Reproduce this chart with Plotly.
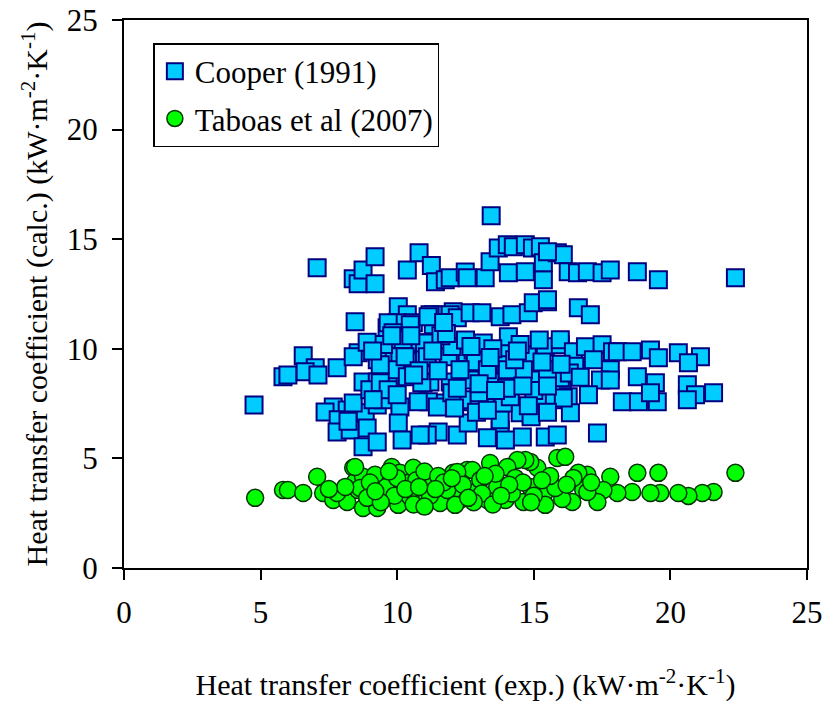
import plotly.graph_objects as go

# Cooper (1991) correlation: experimental vs calculated h (kW m^-2 K^-1)
cooper_x = [13.44, 7.07, 8.39, 8.57, 8.75, 9.19, 9.19, 10.37, 10.80, 11.25, 11.40, 11.76, 11.94,
            12.49, 12.56, 13.22, 13.40, 13.70, 14.03, 14.25, 14.69, 14.95, 15.24, 14.07, 14.69,
            15.35, 15.35, 15.86, 16.08, 16.26, 16.60, 16.96, 17.50, 17.80, 18.79, 19.56, 22.38,
            15.50,
            10.04, 10.37, 11.32, 12.05, 8.46, 10.00, 9.63, 9.93, 10.77, 11.32, 10.59, 11.20, 11.94,
            12.20, 12.67, 13.10, 13.77, 14.20, 14.80, 14.98, 15.50, 16.63, 17.07, 15.50, 9.67,
            10.48, 11.13, 9.85, 10.22, 10.84,
            6.56, 5.82, 6.00, 7.00, 6.63, 7.10, 7.80, 8.57, 8.39, 9.63, 9.27, 10.10, 10.48, 11.00,
            8.75, 9.27, 9.67, 10.95, 9.93, 9.38, 10.37, 10.29, 11.87, 12.56, 11.00, 11.10, 12.78,
            12.86, 13.15, 13.96, 14.07, 13.96, 14.76, 15.42, 15.97, 15.97, 16.45, 16.89, 17.50,
            17.88, 17.80, 17.18, 17.44, 17.00, 16.04, 16.26, 16.34, 17.33, 15.42, 15.86, 14.58,
            13.77, 13.30, 13.96, 11.50, 12.20, 11.10, 14.50, 15.05, 15.68, 16.08, 13.22, 12.75,
            12.38, 11.69, 11.14, 12.60, 13.77, 13.88, 14.14, 15.13, 14.25, 13.40, 12.67, 11.94,
            11.20, 14.98, 15.97, 15.50, 14.62, 14.03, 13.30, 12.30, 18.06, 18.60, 19.27, 19.56,
            20.29, 21.10, 20.66, 18.79, 19.45, 20.62, 20.92, 21.58, 18.24, 18.83, 19.52, 19.27,
            20.62, 17.80,
            4.76, 7.66, 7.36, 8.17, 7.84, 7.80, 8.28, 8.83, 8.90, 8.75, 9.27, 8.39, 9.27, 9.49,
            10.10, 10.04, 10.18, 10.77, 10.84, 11.47, 9.00, 9.38, 9.67, 10.90, 9.12,
            12.00, 12.50, 13.50, 14.50, 13.00, 14.00, 15.00, 15.50, 12.00, 11.50, 10.80, 14.30,
            15.30, 16.50, 16.30, 12.90, 14.90, 15.50, 10.50, 9.50, 11.60,
            8.90, 9.80, 12.70, 13.40, 14.40, 11.80, 12.20, 13.00, 13.60, 14.60, 15.20, 16.00,
            10.60, 11.30, 9.10, 12.10, 13.30, 14.80, 16.70, 11.70, 10.00, 8.20]
cooper_y = [16.07, 13.70, 13.20, 12.97, 13.60, 14.20, 12.97, 13.60, 14.38, 13.80, 13.06, 13.15, 13.24,
            13.50, 13.24, 13.24, 13.97, 14.60, 14.75, 14.66, 14.75, 14.60, 14.66, 13.47, 13.52,
            13.15, 13.93, 14.38, 14.29, 13.52, 13.47, 13.52, 13.47, 13.60, 13.52, 13.15, 13.24,
            14.43,
            11.92, 11.55, 11.55, 11.69, 11.23, 11.19, 10.96, 10.41, 10.27, 11.10, 11.19, 11.55, 11.55,
            11.42, 11.64, 11.64, 11.46, 11.55, 11.64, 12.10, 12.15, 11.87, 11.55, 12.24, 11.19,
            11.10, 11.46, 10.73, 10.41, 10.27,
            9.68, 8.72, 8.81, 9.13, 8.95, 8.81, 9.13, 9.82, 9.64, 9.59, 9.50, 9.64, 9.41, 9.59,
            8.49, 8.49, 8.45, 8.45, 9.04, 9.27, 8.72, 9.64, 9.64, 9.82, 10.27, 9.64, 9.95,
            9.41, 10.27, 9.82, 10.55, 9.27, 9.73, 10.09, 10.18, 10.41, 9.86, 10.09, 10.18,
            9.86, 9.04, 9.50, 8.58, 7.90, 8.36, 7.81, 7.08, 6.16, 5.98, 6.07, 5.98,
            6.30, 5.94, 5.84, 6.21, 6.07, 6.07, 7.08, 7.67, 7.67, 7.76, 7.67, 7.58,
            7.67, 7.53, 7.58, 6.62, 6.76, 7.53, 7.81, 7.81, 8.58, 8.49, 8.58, 8.49,
            8.49, 8.58, 8.68, 9.04, 9.04, 9.04, 9.04, 9.04, 9.86, 9.86, 9.95, 9.59,
            9.82, 9.64, 9.36, 8.72, 8.45, 8.36, 7.90, 7.99, 7.58, 7.58, 7.58, 7.99,
            7.67, 8.58,
            7.44, 7.35, 7.12, 7.21, 6.76, 6.21, 6.30, 7.08, 6.39, 5.53, 5.75, 7.53, 7.44, 7.67,
            7.35, 6.62, 5.84, 7.58, 6.07, 7.35, 8.13, 8.45, 8.13, 8.45, 7.67,
            10.10, 10.40, 10.00, 10.20, 8.00, 8.20, 8.10, 8.30, 8.00, 9.00, 9.00, 9.50,
            9.40, 9.20, 8.90, 7.10, 6.90, 7.10, 10.60, 10.20, 10.60,
            10.30, 10.60, 10.10, 9.60, 9.90, 10.70, 8.20, 8.40, 8.10, 8.30, 10.40, 9.30,
            8.80, 9.90, 9.90, 7.30, 7.20, 7.40, 8.70, 11.20, 7.90, 6.70]

# Taboas et al (2007) correlation
taboas_x = [4.80, 5.82, 6.00, 6.56, 7.07, 7.29, 7.66, 8.17, 8.39, 8.46, 8.57, 8.75, 8.75, 9.27,
            9.19, 9.49, 9.80, 10.04, 10.10, 10.37, 10.59, 10.90, 11.28, 11.57, 12.05, 12.30,
            12.56, 12.05, 10.48, 8.64, 7.80, 8.46, 22.38, 19.56, 18.79, 21.58, 21.17, 20.66,
            20.29, 19.63, 19.27, 18.60, 18.06, 17.80, 17.55, 17.33, 16.96, 16.81, 16.63, 16.41,
            16.04, 15.86, 16.15, 15.42, 15.13, 14.87, 14.69, 14.40, 14.62, 14.03, 13.96, 13.88,
            13.30, 13.40, 12.75, 12.20, 11.83, 12.12, 15.42, 16.96, 12.86, 13.66, 14.87, 14.32,
            13.04, 15.79, 16.45,
            9.00, 9.60, 10.00, 10.70, 11.00, 11.50, 11.20, 9.90, 10.60, 11.70, 12.40, 13.10,
            13.60, 14.20, 14.60, 15.00, 15.60, 16.20, 17.10, 8.90, 9.40, 12.80, 13.50, 14.90,
            11.00, 9.70, 8.10, 7.50,
            9.20, 10.30, 11.40, 12.60, 13.20, 14.10, 15.30, 10.80, 12.00, 13.80]
taboas_y = [3.20, 3.56, 3.56, 3.42, 4.16, 3.42, 3.10, 3.01, 4.57, 3.93, 3.56, 4.16, 2.74, 2.74,
            4.25, 3.42, 4.61, 2.88, 4.34, 3.88, 4.57, 3.42, 3.79, 2.97, 4.34, 3.10,
            4.47, 3.56, 3.24, 3.65, 3.42, 4.61, 4.34, 4.34, 4.34, 3.47, 3.42, 3.29,
            3.42, 3.42, 3.42, 3.47, 3.42, 4.16, 3.56, 3.01, 4.25, 3.56, 4.34, 3.01,
            3.15, 5.02, 5.07, 3.47, 4.57, 4.84, 4.93, 4.93, 3.01, 4.61, 3.10, 3.65,
            3.10, 4.79, 4.47, 4.38, 3.56, 2.88, 2.88, 3.47, 3.47, 3.70, 3.70, 4.11,
            4.02, 3.65, 4.11,
            3.90, 3.70, 4.10, 4.00, 4.40, 4.20, 3.30, 3.30, 2.90, 3.90, 3.80, 3.40,
            4.30, 3.40, 3.90, 3.30, 4.20, 3.80, 3.90, 3.20, 3.00, 3.00, 2.90, 3.00,
            2.80, 4.40, 3.70, 3.60,
            3.50, 3.60, 3.60, 3.20, 4.20, 3.80, 4.00, 3.70, 4.10, 3.30]

axis_ticks = [0, 5, 10, 15, 20, 25]
serif = "Liberation Serif"

fig = go.Figure()
fig.add_trace(go.Scatter(
    x=cooper_x, y=cooper_y, mode="markers", name="Cooper (1991)", legendgroup="cooper",
    marker=dict(symbol="square", size=17, color="#00CCFF",
                line=dict(color="#000080", width=2)),
))
fig.add_trace(go.Scatter(
    x=taboas_x, y=taboas_y, mode="markers", name="Taboas et al (2007)", legendgroup="taboas",
    marker=dict(symbol="circle", size=17, color="#00FF00",
                line=dict(color="#003300", width=1.5)),
))

axis_common = dict(
    range=[0, 25], tickvals=axis_ticks, showgrid=False, zeroline=False,
    showline=True, linecolor="black", linewidth=2, mirror=True,
    ticks="outside", ticklen=10, tickwidth=1.5, tickcolor="black",
    tickfont=dict(family=serif, size=31, color="black"),
    automargin=False,
)

fig.update_layout(
    width=826, height=706,
    margin=dict(l=124, r=19, t=20, b=138, autoexpand=False),
    paper_bgcolor="white", plot_bgcolor="white",
    font=dict(family=serif, color="black"),
    xaxis=dict(**axis_common, ticklabelstandoff=6,
               title=dict(text="Heat transfer coefficient (exp.) (kW·m<sup>-2</sup>·K<sup>-1</sup>)",
                          font=dict(family=serif, size=30), standoff=45)),
    yaxis=dict(**axis_common, ticklabelstandoff=8,
               title=dict(text="Heat transfer coefficient (calc.) (kW·m<sup>-2</sup>·K<sup>-1</sup>)",
                          font=dict(family=serif, size=30), standoff=10)),
    legend=dict(x=0.043, y=0.958, xanchor="left", yanchor="top",
                bgcolor="white", bordercolor="black", borderwidth=1.5,
                tracegroupgap=4,
                font=dict(family=serif, size=31, color="black")),
    showlegend=True,
)

fig.write_html("out.html")
